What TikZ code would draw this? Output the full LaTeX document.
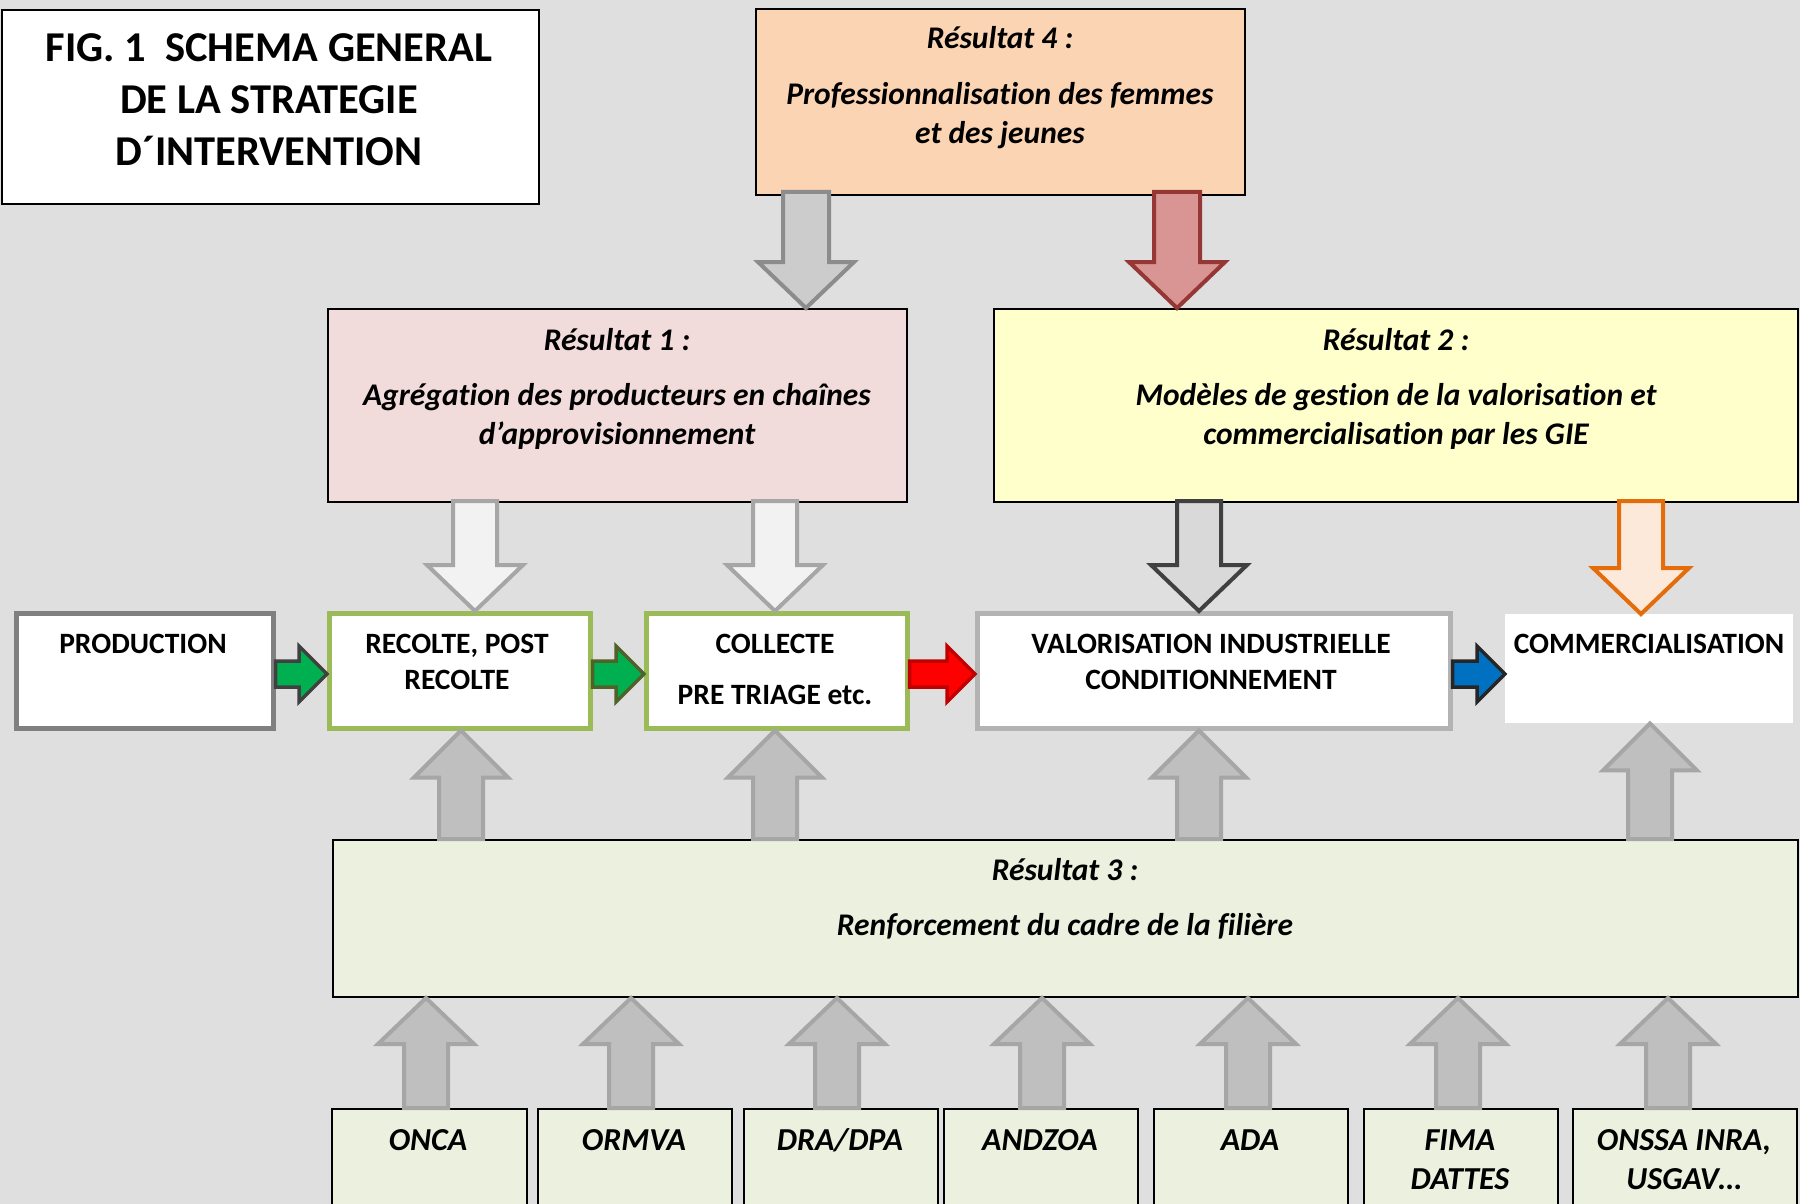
\documentclass[tikz,border=0pt]{standalone}
\usepackage{fontspec}
\setmainfont{Carlito}[Ligatures=NoCommon]
\usetikzlibrary{calc}
\definecolor{bg}{HTML}{DFDFDF}
\definecolor{rfour}{HTML}{FBD4B4}
\definecolor{rone}{HTML}{F2DCDB}
\definecolor{rtwo}{HTML}{FFFFCC}
\definecolor{rthree}{HTML}{EBF1DE}
\definecolor{gbord}{HTML}{9BBB59}
\definecolor{pbord}{HTML}{808080}
\definecolor{vbord}{HTML}{B3B3B3}
\definecolor{agray}{HTML}{CCCCCC}
\definecolor{agrayd}{HTML}{8C8C8C}
\definecolor{aredf}{HTML}{D99594}
\definecolor{aredd}{HTML}{953735}
\definecolor{alight}{HTML}{F2F2F2}
\definecolor{alightd}{HTML}{A6A6A6}
\definecolor{adarkf}{HTML}{D9D9D9}
\definecolor{adarkd}{HTML}{404040}
\definecolor{aorf}{HTML}{FDE9D9}
\definecolor{aord}{HTML}{E46C0A}
\definecolor{agreen}{HTML}{00B050}
\definecolor{agreend}{HTML}{4F6228}
\definecolor{ared}{HTML}{FF0000}
\definecolor{aredb}{HTML}{C00000}
\definecolor{ablue}{HTML}{0070C0}
\definecolor{ablued}{HTML}{262626}
\definecolor{aup}{HTML}{BFBFBF}
\definecolor{aupd}{HTML}{A6A6A6}
% style, from, to, shaft half, head half, head length
\newcommand{\dnArr}[6]{\draw[#1] let \p1=(#2), \p2=(#3) in
  (\x1-#4,\y1) -- (\x1-#4,\y2+#6) -- (\x1-#5,\y2+#6) -- (\x1,\y2) -- (\x1+#5,\y2+#6) -- (\x1+#4,\y2+#6) -- (\x1+#4,\y1) -- cycle;}
\newcommand{\upArr}[6]{\draw[#1] let \p1=(#2), \p2=(#3) in
  (\x1-#4,\y1) -- (\x1-#4,\y2-#6) -- (\x1-#5,\y2-#6) -- (\x1,\y2) -- (\x1+#5,\y2-#6) -- (\x1+#4,\y2-#6) -- (\x1+#4,\y1) -- cycle;}
\newcommand{\rtArr}[6]{\draw[#1] let \p1=(#2), \p2=(#3) in
  (\x1,\y1-#4) -- (\x2-#6,\y1-#4) -- (\x2-#6,\y1-#5) -- (\x2,\y1) -- (\x2-#6,\y1+#5) -- (\x2-#6,\y1+#4) -- (\x1,\y1+#4) -- cycle;}
\begin{document}
\begin{tikzpicture}[x=1pt,y=-1pt,
  box/.style={draw=black, line width=2pt, inner sep=0pt, anchor=north west},
  rowbox/.style={draw, fill=white, line width=4.5pt, inner sep=0pt, anchor=north west, minimum height=115pt},
  botbox/.style={box, fill=rthree, minimum height=120pt},
  titletxt/.style={anchor=base, font=\fontsize{42.5}{50}\selectfont\bfseries},
  restxt/.style={anchor=base, font=\fontsize{31.5}{38}\selectfont\bfseries\itshape},
  rowtxt/.style={anchor=base, font=\fontsize{29.5}{35}\selectfont\bfseries},
  bottxt/.style={anchor=base, font=\fontsize{32}{38}\selectfont\bfseries\itshape},
  arr/.style={line width=4pt, line join=miter},
  harr/.style={line width=3.5pt, line join=miter}]
\useasboundingbox (0,0) rectangle (1800,1204);
\fill[bg] (0,0) rectangle (1800,1204);
\clip (0,0) rectangle (1800,1204);

% boxes
\node[box, fill=white, minimum width=537pt, minimum height=194pt] (title) at (1,9) {};
\node[box, fill=rfour, minimum width=489pt, minimum height=186pt] (r4) at (755,8) {};
\node[box, fill=rone, minimum width=579pt, minimum height=193pt] (r1) at (327,308) {};
\node[box, fill=rtwo, minimum width=804pt, minimum height=193pt] (r2) at (993,308) {};
\node[rowbox, draw=pbord, minimum width=257pt] (prod) at (14,611) {};
\node[rowbox, draw=gbord, minimum width=261pt] (rec) at (327,611) {};
\node[rowbox, draw=gbord, minimum width=261pt] (col) at (644,611) {};
\node[rowbox, draw=vbord, minimum width=473pt] (val) at (975,611) {};
\node[fill=white, inner sep=0pt, anchor=north west, minimum width=288pt, minimum height=109pt] (com) at (1505,614) {};
\node[box, fill=rthree, minimum width=1465pt, minimum height=157pt] (r3) at (332,839) {};
\node[botbox, minimum width=195pt] (b1) at (331,1108) {};
\node[botbox, minimum width=194pt] (b2) at (537,1108) {};
\node[botbox, minimum width=194pt] (b3) at (743,1108) {};
\node[botbox, minimum width=194pt] (b4) at (943,1108) {};
\node[botbox, minimum width=194pt] (b5) at (1153,1108) {};
\node[botbox, minimum width=194pt] (b6) at (1363,1108) {};
\node[botbox, minimum width=224pt] (b7) at (1572,1108) {};

% arrows from Resultat 4
\dnArr{arr, fill=agray, draw=agrayd}{$(806,0 |- r4.south)+(0,-4)$}{806,0 |- r1.north}{23}{48}{46}
\dnArr{arr, fill=aredf, draw=aredd}{$(1177,0 |- r4.south)+(0,-4)$}{1177,0 |- r2.north}{23}{48}{46}
% arrows from Resultat 1 and 2
\dnArr{arr, fill=alight, draw=alightd}{$(475,0 |- r1.south)+(0,-2)$}{475,0 |- rec.north}{22}{48}{46}
\dnArr{arr, fill=alight, draw=alightd}{$(775,0 |- r1.south)+(0,-2)$}{775,0 |- col.north}{22}{48}{46}
\dnArr{arr, fill=adarkf, draw=adarkd}{$(1199,0 |- r2.south)+(0,-2)$}{1199,0 |- val.north}{22}{48}{46}
\dnArr{arr, fill=aorf, draw=aord}{$(1641,0 |- r2.south)+(0,-2)$}{1641,0 |- com.north}{22}{48}{46}
% horizontal chain
\rtArr{harr, fill=agreen, draw=adarkd}{prod.east |- 0,674}{rec.west |- 0,674}{13}{28}{28}
\rtArr{harr, fill=agreen, draw=agreend}{rec.east |- 0,674}{col.west |- 0,674}{13}{28}{28}
\rtArr{harr, fill=ared, draw=aredb}{col.east |- 0,674}{val.west |- 0,674}{13}{28}{28}
\rtArr{harr, fill=ablue, draw=ablued}{val.east |- 0,674}{com.west |- 0,674}{13}{28}{28}
% arrows up from Resultat 3
\upArr{arr, fill=aup, draw=aupd}{461,0 |- r3.north}{461,0 |- rec.south}{22}{47}{47}
\upArr{arr, fill=aup, draw=aupd}{775,0 |- r3.north}{775,0 |- col.south}{22}{47}{47}
\upArr{arr, fill=aup, draw=aupd}{1199,0 |- r3.north}{1199,0 |- val.south}{22}{47}{47}
\upArr{arr, fill=aup, draw=aupd}{1650,0 |- r3.north}{1650,0 |- com.south}{22}{47}{47}
% arrows up from partners
\upArr{arr, fill=aup, draw=aupd}{426,0 |- b1.north}{426,0 |- r3.south}{22}{48}{46}
\upArr{arr, fill=aup, draw=aupd}{631,0 |- b2.north}{631,0 |- r3.south}{22}{48}{46}
\upArr{arr, fill=aup, draw=aupd}{837,0 |- b3.north}{837,0 |- r3.south}{22}{48}{46}
\upArr{arr, fill=aup, draw=aupd}{1042,0 |- b4.north}{1042,0 |- r3.south}{22}{48}{46}
\upArr{arr, fill=aup, draw=aupd}{1248,0 |- b5.north}{1248,0 |- r3.south}{22}{48}{46}
\upArr{arr, fill=aup, draw=aupd}{1458,0 |- b6.north}{1458,0 |- r3.south}{22}{48}{46}
\upArr{arr, fill=aup, draw=aupd}{1668,0 |- b7.north}{1668,0 |- r3.south}{22}{48}{46}

% texts
\node[titletxt] (tt1) at (269,62) {FIG. 1~~SCHEMA GENERAL};
\node[titletxt] (tt2) at (269,114) {DE LA STRATEGIE};
\node[titletxt] (tt3) at (269,166) {D´INTERVENTION};
\node[restxt] (r4a) at (1000,49) {Résultat 4 :};
\node[restxt] (r4b) at (1000,105) {Professionnalisation des femmes};
\node[restxt] (r4c) at (1000,144) {et des jeunes};
\node[restxt] (r1a) at (617,350) {Résultat 1 :};
\node[restxt] (r1b) at (617,405) {Agrégation des producteurs en chaînes};
\node[restxt] (r1c) at (617,444) {d’approvisionnement};
\node[restxt] (r2a) at (1396,350) {Résultat 2 :};
\node[restxt] (r2b) at (1396,405) {Modèles de gestion de la valorisation et};
\node[restxt] (r2c) at (1396,444) {commercialisation par les GIE};
\node[restxt] (r3a) at (1065,880) {Résultat 3 :};
\node[restxt] (r3b) at (1065,935) {Renforcement du cadre de la filière};
\node[rowtxt] (pt) at (143,653) {PRODUCTION};
\node[rowtxt] (rt1) at (457,653) {RECOLTE, POST};
\node[rowtxt] (rt2) at (457,689) {RECOLTE};
\node[rowtxt] (ct1) at (775,653) {COLLECTE};
\node[rowtxt] (ct2) at (775,704) {PRE TRIAGE etc.};
\node[rowtxt] (vt1) at (1211,653) {VALORISATION INDUSTRIELLE};
\node[rowtxt] (vt2) at (1211,689) {CONDITIONNEMENT};
\node[rowtxt] (cmt) at (1649,653) {COMMERCIALISATION};
\node[bottxt] (bt1) at (428,1150) {ONCA};
\node[bottxt] (bt2) at (634,1150) {ORMVA};
\node[bottxt] (bt3) at (840,1150) {DRA/DPA};
\node[bottxt] (bt4) at (1040,1150) {ANDZOA};
\node[bottxt] (bt5) at (1250,1150) {ADA};
\node[bottxt] (bt6a) at (1460,1150) {FIMA};
\node[bottxt] (bt6b) at (1460,1189) {DATTES};
\node[bottxt] (bt7a) at (1684,1150) {ONSSA INRA,};
\node[bottxt] (bt7b) at (1684,1189) {USGAV…};
\end{tikzpicture}
\end{document}
